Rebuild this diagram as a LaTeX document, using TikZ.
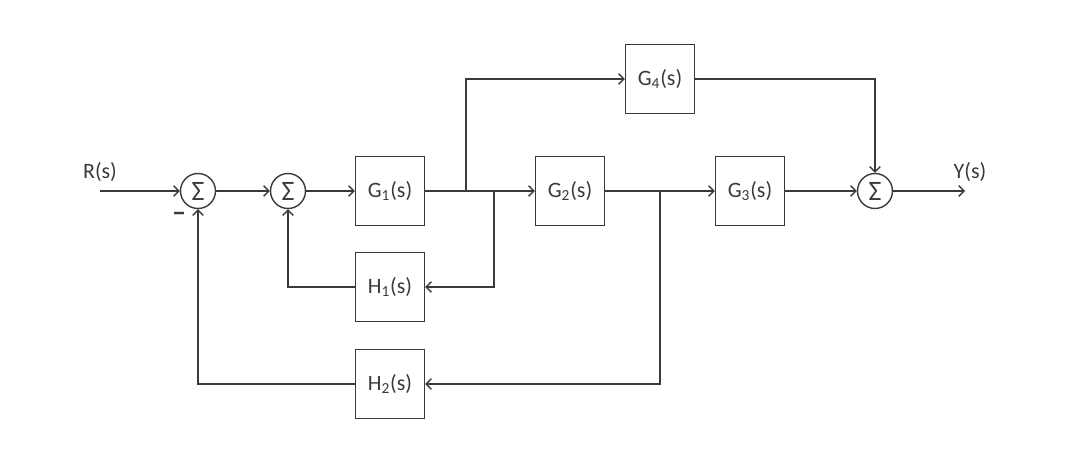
\documentclass[tikz,border=0pt]{standalone}
\usepackage{fontspec}
\setmainfont{Carlito}
\usetikzlibrary{arrows.meta,calc}
\definecolor{linegray}{HTML}{3A3A3A}
\tikzset{
blk/.style={draw=linegray, line width=0.8pt, minimum width=1.38cm, minimum height=1.38cm, inner sep=0pt, text=linegray, font=\fontsize{12.5}{14}\selectfont},
sumnode/.style={circle, draw=linegray, line width=0.8pt, minimum size=0.7cm, inner sep=0pt, text=linegray, font=\fontsize{16}{16}\selectfont},
sig/.style={draw=linegray, line width=0.8pt, -{Straight Barb[length=3pt,width=6pt]}},
lbl/.style={inner sep=0pt, text=linegray, font=\fontsize{12.5}{14}\selectfont},
}

\begin{document}
\begin{tikzpicture}[x=0.02cm, y=-0.02cm]
\useasboundingbox (0,0) rectangle (1080,473);

% summing points
\node[sumnode] (S1) at (198,191) {Σ};
\node[sumnode] (S2) at (288,191) {Σ};
\node[sumnode] (S3) at (875,191) {Σ};

% blocks
\node[blk] (G1) at (390,191) {G\textsubscript{1}(s)};
\node[blk] (G2) at (570,191) {G\textsubscript{2}(s)};
\node[blk] (G3) at (750,191) {G\textsubscript{3}(s)};
\node[blk] (G4) at (660,79) {G\textsubscript{4}(s)};
\node[blk] (H1) at (390,287) {H\textsubscript{1}(s)};
\node[blk] (H2) at (390,384) {H\textsubscript{2}(s)};

% labels
\node[lbl] (R) at (100,172) {R(s)};
\node[lbl] (Y) at (970,172) {Y(s)};
\node[lbl, font=\fontsize{16}{16}\bfseries] (minus) at (179,217) {–};

% free ends and branch points
\coordinate (in) at (100,191);
\coordinate (out) at (965,191);
\coordinate (b1) at (466,191);
\coordinate (b2) at (494,191);
\coordinate (b3) at (660,191);

\draw[sig] (in) -- (S1);
\draw[sig] (S1) -- (S2);
\draw[sig] (S2) -- (G1);
\draw[sig] (G1) -- (G2);
\draw[sig] (b1) |- (G4);
\draw[sig] (b2) |- (H1);
\draw[sig] (H1) -| (S2);
\draw[sig] (G2) -- (G3);
\draw[sig] (b3) |- (H2);
\draw[sig] (H2) -| (S1);
\draw[sig] (G4) -| (S3);
\draw[sig] (G3) -- (S3);
\draw[sig] (S3) -- (out);
\end{tikzpicture}
\end{document}
